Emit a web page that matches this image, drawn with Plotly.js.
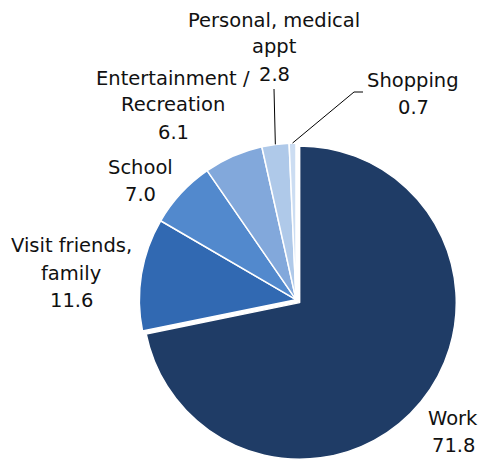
<!DOCTYPE html>
<html>
<head>
<meta charset="utf-8">
<script src="https://cdn.plot.ly/plotly-3.0.1.min.js"></script>
<style>html,body{margin:0;padding:0;background:#fff;}#chart{width:480px;height:461px;}</style>
</head>
<body>
<div id="chart"></div>
<script>
// ---- data ----
const categories = ["Work", "Visit friends, family", "School", "Entertainment / Recreation", "Personal, medical appt", "Shopping"];
const values = [71.8, 11.6, 7.0, 6.1, 2.8, 0.7];
const labelLines = [
  ["Work"],
  ["Visit friends,", "family"],
  ["School"],
  ["Entertainment /", "Recreation"],
  ["Personal, medical", "appt"],
  ["Shopping"]
];
const colors = ["#1F3C66", "#3169B2", "#5289CD", "#82A8DB", "#AFC9E9", "#CCDDF2"];
const pulls = [0.03, 0, 0, 0, 0, 0];

// ---- layout helpers ----
const W = 480, H = 461;
// center x, first-line y of each label block
const labelPos = [[453, 418], [71, 246], [140, 167], [173, 78], [274, 20], [413, 80]];
const lineGap = 27;
const cx = 296, cy = 300, R = 157;
const px = x => x / W, py = y => 1 - y / H;

const total = values.reduce((a, b) => a + b, 0);
function edgePoint(i) {
  let before = 0;
  for (let k = 0; k < i; k++) before += values[k];
  const ang = (before + values[i] / 2) / total * 2 * Math.PI;
  return [cx + R * Math.sin(ang), cy - R * Math.cos(ang)];
}

const font = {family: "DejaVu Sans, Verdana, sans-serif", size: 19.5, color: "#111"};
const annotations = [];
categories.forEach((c, i) => {
  const lines = labelLines[i].concat([values[i].toFixed(1)]);
  lines.forEach((t, j) => {
    annotations.push({
      xref: "paper", yref: "paper",
      x: px(labelPos[i][0]), y: py(labelPos[i][1] + j * lineGap),
      xanchor: "center", yanchor: "middle", align: "center",
      showarrow: false, font: font, text: t
    });
  });
});

const pPers = edgePoint(4), pShop = edgePoint(5);
const shapes = [
  {type: "path", xref: "paper", yref: "paper",
   path: `M ${px(274)} ${py(89)} L ${px(pPers[0])} ${py(pPers[1])}`,
   line: {color: "#000", width: 1}},
  {type: "path", xref: "paper", yref: "paper",
   path: `M ${px(363)} ${py(92)} L ${px(354)} ${py(92)} L ${px(pShop[0])} ${py(pShop[1])}`,
   line: {color: "#000", width: 1}}
];

const trace = {
  type: "pie",
  labels: categories,
  values: values,
  sort: false,
  direction: "clockwise",
  rotation: 0,
  pull: pulls,
  textinfo: "none",
  hoverinfo: "label+value",
  marker: {colors: colors, line: {color: "#fff", width: 1.5}},
  domain: {x: [132 / W, 460 / W], y: [0, 0.70]},
  showlegend: false
};

Plotly.newPlot("chart", [trace], {
  width: W, height: H,
  margin: {l: 0, r: 0, t: 0, b: 0},
  paper_bgcolor: "#fff",
  showlegend: false,
  annotations: annotations,
  shapes: shapes
}, {displayModeBar: false, staticPlot: true});
</script>
</body>
</html>
